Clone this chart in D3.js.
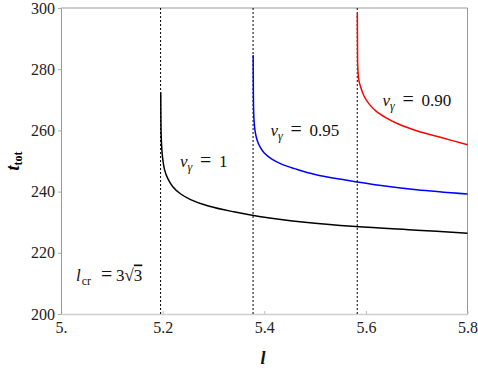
<!DOCTYPE html>
<html>
<head>
<meta charset="utf-8">
<script src="https://cdn.jsdelivr.net/npm/d3@7"></script>
</head>
<body style="margin:0; background:#fff">
<div id="chart"></div>
<script>
// values
var xTicks = [5.0, 5.2, 5.4, 5.6, 5.8],
	yTicks = [200, 220, 240, 260, 280, 300],
	lcrit = [5.196, 5.378, 5.583];

var l1 = [5.1963, 5.1965, 5.1970, 5.198, 5.200, 5.204, 5.210, 5.220, 5.235, 5.255, 5.29, 5.34, 5.39, 5.48, 5.58, 5.70, 5.80],
	t1 = [272.5, 266, 259, 255, 251, 247, 244.3, 241.6, 239.3, 237.4, 235.3, 233.4, 231.9, 230.0, 228.6, 227.4, 226.4];

var l095 = [5.3782, 5.3785, 5.379, 5.380, 5.382, 5.386, 5.392, 5.400, 5.415, 5.435, 5.46, 5.50, 5.56, 5.63, 5.70, 5.80],
	t095 = [284.6, 274, 267, 263, 259.8, 256.8, 254.5, 252.6, 250.6, 248.9, 247.5, 245.6, 243.8, 242.0, 240.6, 239.2];

var l090 = [5.5832, 5.5835, 5.584, 5.586, 5.590, 5.597, 5.607, 5.620, 5.640, 5.665, 5.70, 5.75, 5.80],
	t090 = [298.3, 288, 281, 276.5, 274, 271, 268.5, 266.3, 264.1, 262.0, 259.9, 257.6, 255.3];

var width = 478, height = 368,
	x0 = 61, x1 = 467.5, y0 = 314, y1 = 8,
	serif = "Liberation Serif";

var svg = d3.select("#chart").append("svg")
	.attr("width", width)
	.attr("height", height);

var x = d3.scaleLinear().domain([5.0, 5.8]).range([x0, x1]);
var y = d3.scaleLinear().domain([200, 300]).range([y0, y1]);

// frame
svg.append("line").attr("x1", x0).attr("x2", x1).attr("y1", y1).attr("y2", y1)
	.attr("stroke", "#999").attr("stroke-width", 1);
svg.append("line").attr("x1", x1).attr("x2", x1).attr("y1", y1).attr("y2", y0)
	.attr("stroke", "#999").attr("stroke-width", 1);

// x axis
var xAxis = svg.append("g")
	.attr("transform", "translate(0," + y0 + ")")
	.call(d3.axisBottom(x).tickValues(xTicks).tickSizeInner(-3).tickSizeOuter(0).tickPadding(8)
		.tickFormat(function(d){ return d === 5 ? "5." : d3.format(".1f")(d); }));
xAxis.select(".domain").attr("stroke", "#d0d0d0").attr("stroke-width", 1.6);
xAxis.selectAll(".tick line").attr("stroke", "#bbb");
xAxis.selectAll("text").attr("font-size", 16).attr("fill", "#222").style("font-family", serif);

// y axis
var yAxis = svg.append("g")
	.attr("transform", "translate(" + x0 + ",0)")
	.call(d3.axisLeft(y).tickValues(yTicks).tickSizeInner(3).tickSizeOuter(0).tickPadding(3));
yAxis.select(".domain").attr("stroke", "#999").attr("stroke-width", 1);
yAxis.selectAll(".tick line").attr("stroke", "#aaa");
yAxis.selectAll("text").attr("font-size", 16).attr("fill", "#222").style("font-family", serif);

// critical lines
svg.selectAll(".crit").data(lcrit).enter().append("line")
	.attr("class", "crit")
	.attr("x1", function(d){ return x(d); })
	.attr("x2", function(d){ return x(d); })
	.attr("y1", y1).attr("y2", y0)
	.attr("stroke", "#000")
	.attr("stroke-width", 1)
	.attr("stroke-dasharray", "2,2");

var line = d3.line()
	.x(function(d){ return x(d[0]); })
	.y(function(d){ return y(d[1]); })
	.curve(d3.curveCatmullRom.alpha(0.5));

var series = [
	{l: l1, t: t1, color: "#000"},
	{l: l095, t: t095, color: "#0000ff"},
	{l: l090, t: t090, color: "#ff0000"}
];

series.forEach(function(s){
	svg.append("path")
		.datum(d3.zip(s.l, s.t))
		.attr("d", line)
		.attr("fill", "none")
		.attr("stroke", s.color)
		.attr("stroke-width", 1.5);
});

function mathText(px, py, size){
	return svg.append("text").attr("x", px).attr("y", py)
		.attr("font-size", size).attr("fill", "#111")
		.style("font-family", serif);
}

// labels v_gamma = ...
function vLabel(px, py, val){
	var t = mathText(px, py, 17);
	t.append("tspan").attr("font-style", "italic").text("v");
	t.append("tspan").attr("font-style", "italic").attr("font-size", 12).attr("dy", 4).text("γ");
	t.append("tspan").attr("x", px + 20).attr("dy", -4).attr("font-size", 20).text("=");
	t.append("tspan").attr("x", px + 39).text(val);
}
vLabel(180, 167, "1");
vLabel(270.5, 135.5, "0.95");
vLabel(382.5, 105.5, "0.90");

// l_cr = 3 sqrt 3
var lc = mathText(76, 280.5, 17);
lc.append("tspan").attr("font-style", "italic").text("l");
lc.append("tspan").attr("font-size", 12).attr("dy", 4).attr("dx", 1).text("cr");
lc.append("tspan").attr("x", 101).attr("dy", -4).attr("font-size", 20).text("=");
lc.append("tspan").attr("x", 116).text("3√");
lc.append("tspan").attr("text-decoration", "overline").text("3");

// axis titles
mathText(263, 364, 18)
	.attr("text-anchor", "middle")
	.attr("font-weight", "bold").attr("font-style", "italic")
	.text("l");

var yl = svg.append("text")
	.attr("transform", "translate(19,161) rotate(-90)")
	.attr("text-anchor", "middle")
	.attr("font-size", 18).attr("font-weight", "bold")
	.style("font-family", serif);
yl.append("tspan").attr("font-style", "italic").text("t");
yl.append("tspan").attr("font-size", 12).attr("dy", 3).text("tot");
</script>
</body>
</html>
